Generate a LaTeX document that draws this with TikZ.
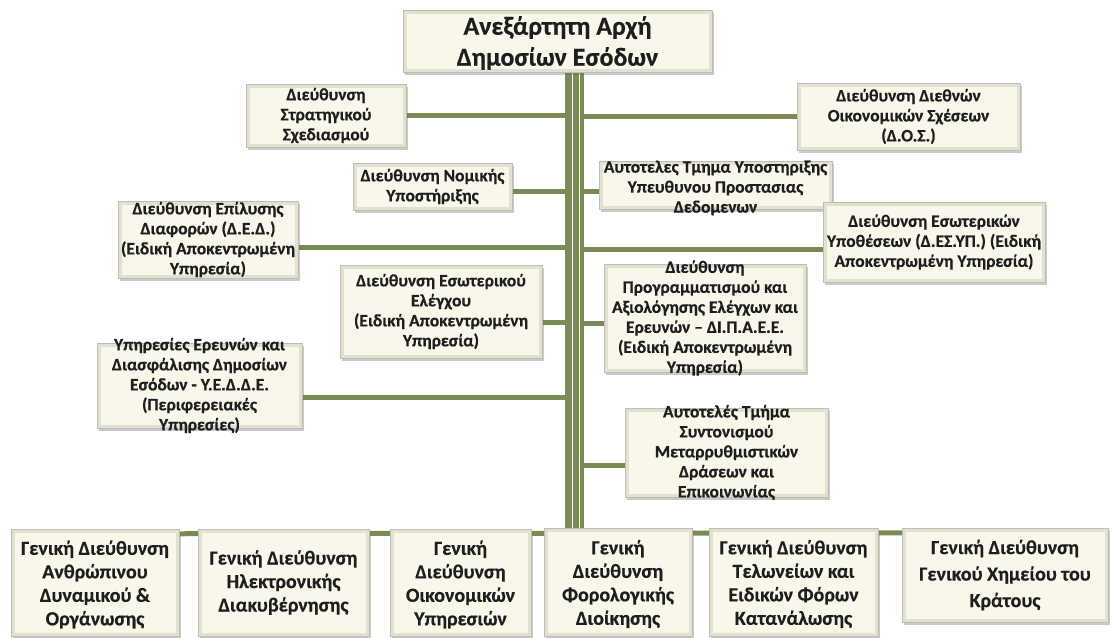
\documentclass[tikz,border=0pt]{standalone}
\usepackage{fontspec}
\setmainfont{Carlito}[BoldFeatures={FakeBold=0.5}]
\usetikzlibrary{shadows}
\definecolor{connc}{RGB}{121,138,84}
\definecolor{cream}{RGB}{248,247,234}
\definecolor{bevel}{RGB}{226,224,206}
\definecolor{framec}{RGB}{190,190,180}
\definecolor{txt}{RGB}{30,30,30}
\pgfdeclarelayer{bg}
\pgfsetlayers{bg,main}
\newcommand\smallboxfont{\fontsize{17.5}{20}\selectfont\bfseries}
\newcommand\bigboxfont{\fontsize{20}{23.5}\selectfont\bfseries}
\newcommand\lastboxfont{\fontsize{20}{26.5}\selectfont\bfseries}
\newcommand\titleboxfont{\fontsize{26}{31}\selectfont\bfseries}
% #1 text style, #2 name, #3 x1, #4 y1, #5 x2, #6 y2, #7 text
\newcommand\orgbox[7][]{%
  \pgfmathsetmacro\bw{#5-#3}\pgfmathsetmacro\bh{#6-#4}%
  \node[box, minimum width=\bw pt, minimum height=\bh pt] (#2) at ({(#3+#5)/2},{(#4+#6)/2}) {};
  \node[boxtext,#1] (#2-t) at (#2.center) {#7};
}
\begin{document}
\begin{tikzpicture}[x=1pt,y=-1pt,
  box/.style={draw=framec, line width=0.5pt, fill=bevel, inner sep=0pt,
    drop shadow={shadow xshift=2pt,shadow yshift=-3pt,opacity=.35,fill=black!60},
    path picture={\fill[cream] ([shift={(3.5pt,-3.5pt)}]path picture bounding box.north west)
      rectangle ([shift={(-3.5pt,3.5pt)}]path picture bounding box.south east);}},
  boxtext/.style={inner sep=0pt, align=center, text=txt, font=\smallboxfont},
  bigtext/.style={font=\bigboxfont},
  lasttext/.style={font=\lastboxfont},
  titletext/.style={font=\titleboxfont},
  cline/.style={draw=connc, line width=5pt}]
\useasboundingbox (0,0) rectangle (1113,637);

\orgbox[titletext,yshift=-2pt]{top}{403}{10}{712}{72}{Ανεξάρτητη Αρχή\\Δημοσίων Εσόδων}
\orgbox{strat}{246}{84}{406}{147}{Διεύθυνση\\Στρατηγικού\\Σχεδιασμού}
\orgbox{dos}{797}{83}{1020}{150}{Διεύθυνση Διεθνών\\Οικονομικών Σχέσεων\\(Δ.Ο.Σ.)}
\orgbox{legal}{353}{163}{512}{210}{Διεύθυνση Νομικής\\Υποστήριξης}
\orgbox[yshift=-3pt]{dataprot}{599}{161}{832}{209}{Αυτοτελες Τμημα Υποστηριξης\\Υπευθυνου Προστασιας\\Δεδομενων}
\orgbox{ded}{118}{201}{298}{278}{Διεύθυνση Επίλυσης\\Διαφορών (Δ.Ε.Δ.)\\(Ειδική Αποκεντρωμένη\\Υπηρεσία)}
\orgbox{desyp}{823}{202}{1045}{282}{Διεύθυνση Εσωτερικών\\Υποθέσεων (Δ.ΕΣ.ΥΠ.) (Ειδική\\Αποκεντρωμένη Υπηρεσία)}
\orgbox{audit}{340}{265}{542}{358}{Διεύθυνση Εσωτερικού\\Ελέγχου\\(Ειδική Αποκεντρωμένη\\Υπηρεσία)}
\orgbox{dipaee}{604}{264}{806}{372}{Διεύθυνση\\Προγραμματισμού και\\Αξιολόγησης Ελέγχων και\\Ερευνών – ΔΙ.Π.Α.Ε.Ε.\\(Ειδική Αποκεντρωμένη\\Υπηρεσία)}
\orgbox{yedde}{97}{343}{302}{428}{Υπηρεσίες Ερευνών και\\Διασφάλισης Δημοσίων\\Εσόδων - Υ.Ε.Δ.Δ.Ε.\\(Περιφερειακές\\Υπηρεσίες)}
\orgbox{coord}{625}{408}{828}{497}{Αυτοτελές Τμήμα\\Συντονισμού\\Μεταρρυθμιστικών\\Δράσεων και\\Επικοινωνίας}

\orgbox[bigtext,yshift=-2pt]{gd1}{11}{529}{179}{636}{Γενική Διεύθυνση\\Ανθρώπινου\\Δυναμικού \&\\Οργάνωσης}
\orgbox[bigtext]{gd2}{198}{529}{369}{636}{Γενική Διεύθυνση\\Ηλεκτρονικής\\Διακυβέρνησης}
\orgbox[bigtext,yshift=-2pt]{gd3}{390}{529}{531}{636}{Γενική\\Διεύθυνση\\Οικονομικών\\Υπηρεσιών}
\orgbox[bigtext,yshift=-2pt]{gd4}{544}{528}{692}{636}{Γενική\\Διεύθυνση\\Φορολογικής\\Διοίκησης}
\orgbox[bigtext,yshift=-2pt]{gd5}{709}{528}{878}{636}{Γενική Διεύθυνση\\Τελωνείων και\\Ειδικών Φόρων\\Κατανάλωσης}
\orgbox[lasttext]{gd6}{902}{528}{1108}{622}{Γενική Διεύθυνση\\Γενικού Χημείου του\\Κράτους}

\coordinate (tx) at (574,0);
\begin{pgfonlayer}{bg}
  \draw[cline] (strat.east) -- (strat.east -| tx);
  \draw[cline] (dos.west) -- (dos.west -| tx);
  \draw[cline] ([yshift=-4.5pt]legal.east) -- ([yshift=-4.5pt]legal.east -| tx);
  \draw[cline] ([yshift=-6pt]dataprot.west) -- ([yshift=-6pt]dataprot.west -| tx);
  \draw[cline] ([yshift=-7.5pt]ded.east) -- ([yshift=-7.5pt]ded.east -| tx);
  \draw[cline] ([yshift=-7pt]desyp.west) -- ([yshift=-7pt]desyp.west -| tx);
  \draw[cline] ([yshift=-10.5pt]audit.east) -- ([yshift=-10.5pt]audit.east -| tx);
  \draw[cline] ([yshift=-5pt]dipaee.west) -- ([yshift=-5pt]dipaee.west -| tx);
  \draw[cline] ([yshift=-11.5pt]yedde.east) -- ([yshift=-11.5pt]yedde.east -| tx);
  \draw[cline] ([yshift=-12.5pt]coord.west) -- ([yshift=-12.5pt]coord.west -| tx);
  \draw[cline] ([yshift=-5pt]gd1.north east) -- ([yshift=-5pt]gd6.north west);
  \coordinate (tA) at (top.south -| tx);
  \coordinate (tB) at ([yshift=-4pt]gd4.north -| tx);
  \draw[connc, line width=19pt] (tA) -- (tB);
  \draw[white, line width=0.8pt] ([xshift=-2pt]tA) -- ([xshift=-2pt]tB);
  \draw[white, line width=0.8pt] ([xshift=5pt]tA) -- ([xshift=5pt]tB);
\end{pgfonlayer}
\end{tikzpicture}
\end{document}
